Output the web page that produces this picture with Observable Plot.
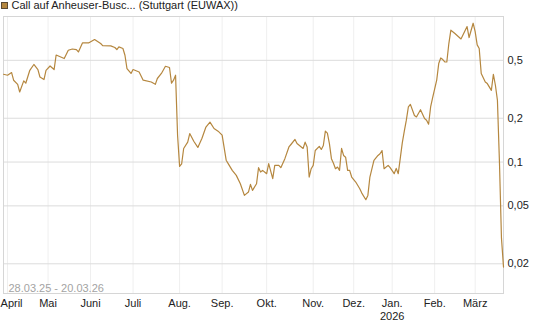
<!DOCTYPE html>
<html>
<head>
<meta charset="utf-8">
<script src="https://cdn.jsdelivr.net/npm/d3@7"></script>
<script src="https://cdn.jsdelivr.net/npm/@observablehq/plot@0.6"></script>
<style>
  html, body { margin: 0; padding: 0; background: #fff; }
  body { font-family: "Liberation Sans", Arial, sans-serif; }
  #wrap { position: relative; width: 545px; height: 327px; overflow: hidden; }
  #legend { position: absolute; left: 0; top: 0; width: 400px; height: 14px; font-size: 11px; color: #222; }
  #legend .sw { position: absolute; left: 1px; top: 2px; width: 7px; height: 7px; box-sizing: border-box; border: 1px solid #5a4a35; }
  #legend .lt { position: absolute; left: 11.5px; top: -1px; line-height: 12px; white-space: nowrap; }
</style>
</head>
<body>
<div id="wrap"><div id="legend"><span class="sw"></span><span class="lt"></span></div></div>
<script>
// ---- data ----
const seriesName = "Call auf Anheuser-Busc... (Stuttgart (EUWAX))";
const rangeLabel = "28.03.25 - 20.03.26";
const lineColor = "#b5873f";
const firstDay = "2025-03-28";
const lastDay = "2026-03-20";
const holidays = ["2025-04-18", "2025-04-21", "2025-05-01", "2025-12-24", "2025-12-25", "2025-12-26", "2025-12-31", "2026-01-01"];
const monthLabels = ["April", "Mai", "Juni", "Juli", "Aug.", "Sep.", "Okt.", "Nov.", "Dez.", "Jan.\n2026", "Feb.", "März"];
const yTicks = [0.02, 0.05, 0.1, 0.2, 0.5];
const yTickLabels = ["0,02", "0,05", "0,1", "0,2", "0,5"];

// trading-day index (0 = 28.03.25) and price
const dayIndex = [0,2,4,5,7,8,10,11,13,15,17,18,20,21,23,25,26,30,32,34,36,37,39,42,45,48,49,53,55,56,57,59,60,61,63,64,67,69,73,75,76,78,80,82,83,84,85,86,87,88,89,91,92,94,96,98,100,102,104,106,108,110,111,113,115,117,119,121,122,123,125,126,127,128,130,131,133,134,136,137,139,141,142,144,145,148,149,150,151,152,153,154,156,157,158,159,160,161,162,163,164,165,166,167,168,169,170,171,172,174,176,177,179,180,181,183,185,186,187,188,190,191,193,194,195,196,197,198,199,200,201,203,204,206,208,209,210,211,212,214,215,216,217,218,219,220,221,223,226,229,230,232,233,234,235,236,238,239,241,242,243,244,245,246,247];
const price = [0.401,0.395,0.412,0.365,0.342,0.303,0.361,0.348,0.427,0.468,0.432,0.384,0.369,0.427,0.457,0.432,0.544,0.514,0.586,0.598,0.593,0.571,0.658,0.658,0.695,0.652,0.631,0.628,0.612,0.593,0.618,0.603,0.542,0.439,0.406,0.432,0.416,0.365,0.355,0.342,0.375,0.406,0.455,0.446,0.348,0.365,0.395,0.152,0.0934,0.097,0.124,0.137,0.157,0.139,0.126,0.145,0.174,0.188,0.170,0.163,0.153,0.103,0.0975,0.0877,0.081,0.071,0.059,0.0622,0.0703,0.0639,0.071,0.0915,0.0854,0.0877,0.0832,0.0975,0.0769,0.0949,0.0949,0.0915,0.1055,0.127,0.132,0.143,0.134,0.124,0.137,0.127,0.0789,0.090,0.0949,0.120,0.128,0.122,0.130,0.163,0.158,0.134,0.1055,0.098,0.090,0.0924,0.0877,0.124,0.111,0.108,0.0877,0.0877,0.0789,0.0729,0.0656,0.0612,0.0551,0.059,0.0789,0.1027,0.111,0.114,0.120,0.090,0.0949,0.0915,0.0832,0.0905,0.0832,0.106,0.1355,0.163,0.194,0.239,0.249,0.209,0.204,0.229,0.199,0.194,0.182,0.239,0.277,0.365,0.475,0.519,0.506,0.487,0.487,0.652,0.805,0.764,0.701,0.853,0.717,0.899,0.788,0.638,0.603,0.406,0.355,0.346,0.311,0.401,0.337,0.266,0.10,0.03,0.019];

// ---- trading calendar ----
const fmt = d3.utcFormat("%Y-%m-%d");
const holidaySet = new Set(holidays);
const days = d3.utcDay.range(new Date(firstDay + "T00:00:00Z"), d3.utcDay.offset(new Date(lastDay + "T00:00:00Z"), 1))
  .filter(d => d.getUTCDay() !== 0 && d.getUTCDay() !== 6 && !holidaySet.has(fmt(d)));
const monthStarts = [];
days.forEach((d, i) => { if (i > 0 && d.getUTCMonth() !== days[i - 1].getUTCMonth()) monthStarts.push(i); });
const labelOf = new Map(monthStarts.map((idx, k) => [idx, monthLabels[k]]));

const data = dayIndex.map((i, k) => ({i, v: price[k]}));
const yLabelData = yTicks.map((v, k) => ({v, label: yTickLabels[k]}));

document.querySelector("#legend .lt").textContent = seriesName;
document.querySelector("#legend .sw").style.background = lineColor;

const axisOpts = {tickSize: 0, tickPadding: 4.5, tickFormat: d => labelOf.get(d), lineHeight: 1.15, fill: "#222", label: null};

const chart = Plot.plot({
  width: 545,
  height: 327,
  marginTop: 16,
  marginBottom: 34,
  marginLeft: 3,
  marginRight: 42,
  style: {fontFamily: "'Liberation Sans', Arial, sans-serif", fontSize: "11px", color: "#222", background: "transparent", overflow: "visible"},
  x: {type: "linear", domain: [0, days.length - 1], axis: null, label: null},
  y: {type: "log", domain: [0.0125, 1.0], axis: null, label: null},
  marks: [
    Plot.gridX(monthStarts, {stroke: "#efefef", strokeOpacity: 1}),
    Plot.gridY(yTicks, {stroke: "#dcdcdc", strokeOpacity: 1}),
    Plot.frame({stroke: "#d6d6d6"}),
    Plot.axisX(monthStarts.slice(0, 1), {...axisOpts, textAnchor: "start", dx: -7}),
    Plot.axisX(monthStarts.slice(1), axisOpts),
    Plot.text(yLabelData, {y: "v", text: "label", frameAnchor: "right", dx: 4, textAnchor: "start", fill: "#222"}),
    Plot.text([rangeLabel], {text: d => d, frameAnchor: "bottom-left", dx: 5, dy: -2, textAnchor: "start", lineAnchor: "bottom", fill: "#a3a3a3"}),
    Plot.line(data, {x: "i", y: "v", stroke: lineColor, strokeWidth: 1.2})
  ]
});
document.getElementById("wrap").prepend(chart);
</script>
</body>
</html>
